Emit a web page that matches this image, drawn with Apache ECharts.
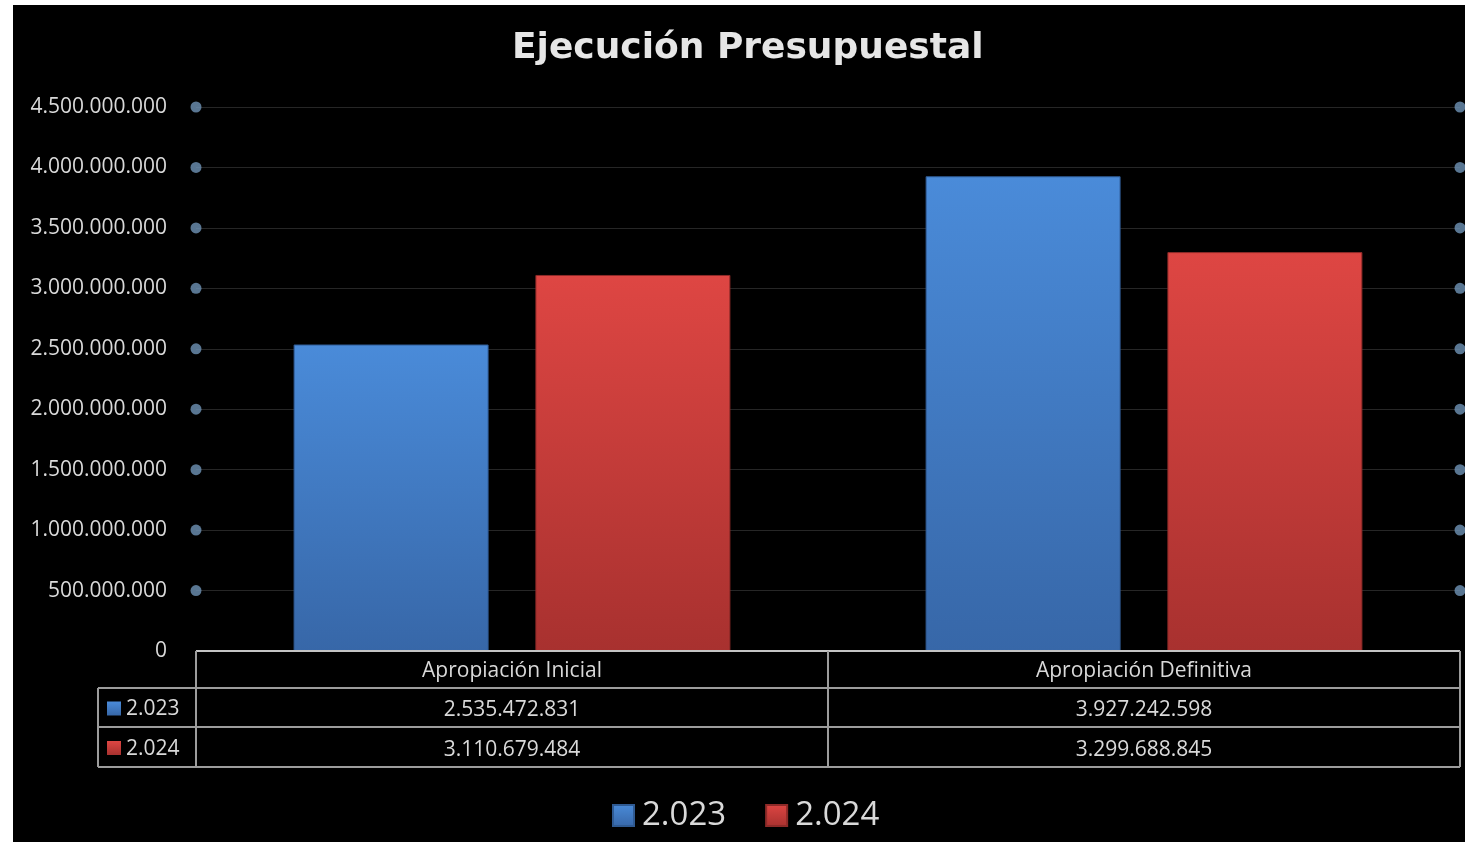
<!DOCTYPE html>
<html>
<head>
<meta charset="utf-8">
<script src="https://cdn.jsdelivr.net/npm/echarts@6/dist/echarts.min.js"></script>
<style>
html,body{margin:0;padding:0;background:#ffffff;}
#chart{position:absolute;left:13px;top:5px;width:1452px;height:837px;background:#000000;}
</style>
</head>
<body>
<div id="chart"></div>
<script>
const titleText = 'Ejecución Presupuestal';
const categories = ['Apropiación Inicial', 'Apropiación Definitiva'];
const seriesNames = ['2.023', '2.024'];
const values2023 = [2535472831, 3927242598];
const values2024 = [3110679484, 3299688845];
const yTicks = [0, 500000000, 1000000000, 1500000000, 2000000000, 2500000000, 3000000000, 3500000000, 4000000000, 4500000000];

function fmt(v) { return String(v).replace(/\B(?=(\d{3})+(?!\d))/g, '.'); }

const blueGrad = new echarts.graphic.LinearGradient(0, 0, 0, 1, [
  {offset: 0, color: '#4a8bd9'}, {offset: 1, color: '#3767a8'}]);
const redGrad = new echarts.graphic.LinearGradient(0, 0, 0, 1, [
  {offset: 0, color: '#de4643'}, {offset: 1, color: '#a8312f'}]);
const keyColors = [blueGrad, redGrad];
const tableValues = [values2023, values2024];

const dotData = [];
yTicks.filter(v => v > 0).forEach(v => { dotData.push([0, v]); dotData.push([1, v]); });

const chart = echarts.init(document.getElementById('chart'));
const FONT = 'Open Sans';
const LABEL = '#d9d9d9';
const LINE = '#9c9c9c';

chart.setOption({
  backgroundColor: '#000000',
  animation: false,
  title: {
    text: titleText, left: 494, top: 21,
    textStyle: {color: '#e6e6e6', fontFamily: 'DejaVu Sans', fontWeight: 'bold', fontSize: 36}
  },
  legend: {
    data: seriesNames, left: 594, top: 789, icon: 'rect', itemWidth: 21, itemHeight: 21, itemGap: 39,
    textStyle: {color: LABEL, fontFamily: FONT, fontSize: 33, padding: [0, 0, 0, 3]}
  },
  grid: {left: 183, right: 5, top: 102, bottom: 191, containLabel: false},
  xAxis: [
    {type: 'category', data: categories, axisLine: {show: false}, axisTick: {show: false}, axisLabel: {show: false}, splitLine: {show: false}},
    {type: 'value', min: 0, max: 1, show: false}
  ],
  yAxis: {
    type: 'value', min: 0, max: 4500000000, interval: 500000000,
    axisLine: {show: false}, axisTick: {show: false},
    axisLabel: {color: LABEL, fontFamily: FONT, fontSize: 21, margin: 29, formatter: v => fmt(v)},
    splitLine: {lineStyle: {color: '#262626', width: 1}}
  },
  series: [
    {name: seriesNames[0], type: 'bar', data: values2023, barWidth: 195, barGap: '24%',
     itemStyle: {color: blueGrad, borderColor: '#2f5a92', borderWidth: 1}},
    {name: seriesNames[1], type: 'bar', data: values2024, barWidth: 195, barGap: '24%',
     itemStyle: {color: redGrad, borderColor: '#8e2a28', borderWidth: 1}},
    {type: 'scatter', xAxisIndex: 1, data: dotData, symbolSize: 11, silent: true,
     itemStyle: {color: '#6f93b6'}, z: 5},
    {type: 'custom', xAxisIndex: 0, data: categories.map((c, i) => [i, 0]), clip: false, silent: true, z: 10,
     renderItem: function (params, api) {
       const i = api.value(0);
       const c = api.coord([i, 0]);
       const w = api.size([1, 0])[0];
       const x0 = c[0] - w / 2, x1 = c[0] + w / 2, y0 = c[1];
       const rows = [y0, y0 + 37, y0 + 76, y0 + 116];
       const ch = [];
       const line = (xa, ya, xb, yb, col) => ch.push({type: 'line', shape: {x1: xa, y1: ya, x2: xb, y2: yb}, style: {stroke: col || LINE, lineWidth: 2}});
       line(x0, rows[0], x1, rows[0], '#c4c4c4');
       line(x0, rows[1], x1, rows[1]);
       line(x0, rows[2], x1, rows[2]);
       line(x0, rows[3], x1, rows[3]);
       line(x0, rows[0], x0, rows[3]);
       line(x1, rows[0], x1, rows[3]);
       const txt = (s, x, y, align) => ch.push({type: 'text', style: {text: s, x: x, y: y, align: align || 'center', verticalAlign: 'middle', fill: LABEL, font: '21px "Open Sans"'}});
       txt(categories[i], c[0], (rows[0] + rows[1]) / 2 + 2);
       txt(fmt(tableValues[0][i]), c[0], (rows[1] + rows[2]) / 2 + 3);
       txt(fmt(tableValues[1][i]), c[0], (rows[2] + rows[3]) / 2 + 3);
       if (i === 0) {
         const lx = x0 - 98;
         line(lx, rows[1], x0, rows[1]);
         line(lx, rows[2], x0, rows[2]);
         line(lx, rows[3], x0, rows[3]);
         line(lx, rows[1], lx, rows[3]);
         for (let r = 0; r < 2; r++) {
           const cy = (rows[r + 1] + rows[r + 2]) / 2;
           ch.push({type: 'rect', shape: {x: x0 - 89, y: cy - 6, width: 14, height: 14}, style: {fill: keyColors[r]}});
           txt(seriesNames[r], x0 - 70, cy + 2, 'left');
         }
       }
       return {type: 'group', children: ch};
     }}
  ]
});
</script>
</body>
</html>
